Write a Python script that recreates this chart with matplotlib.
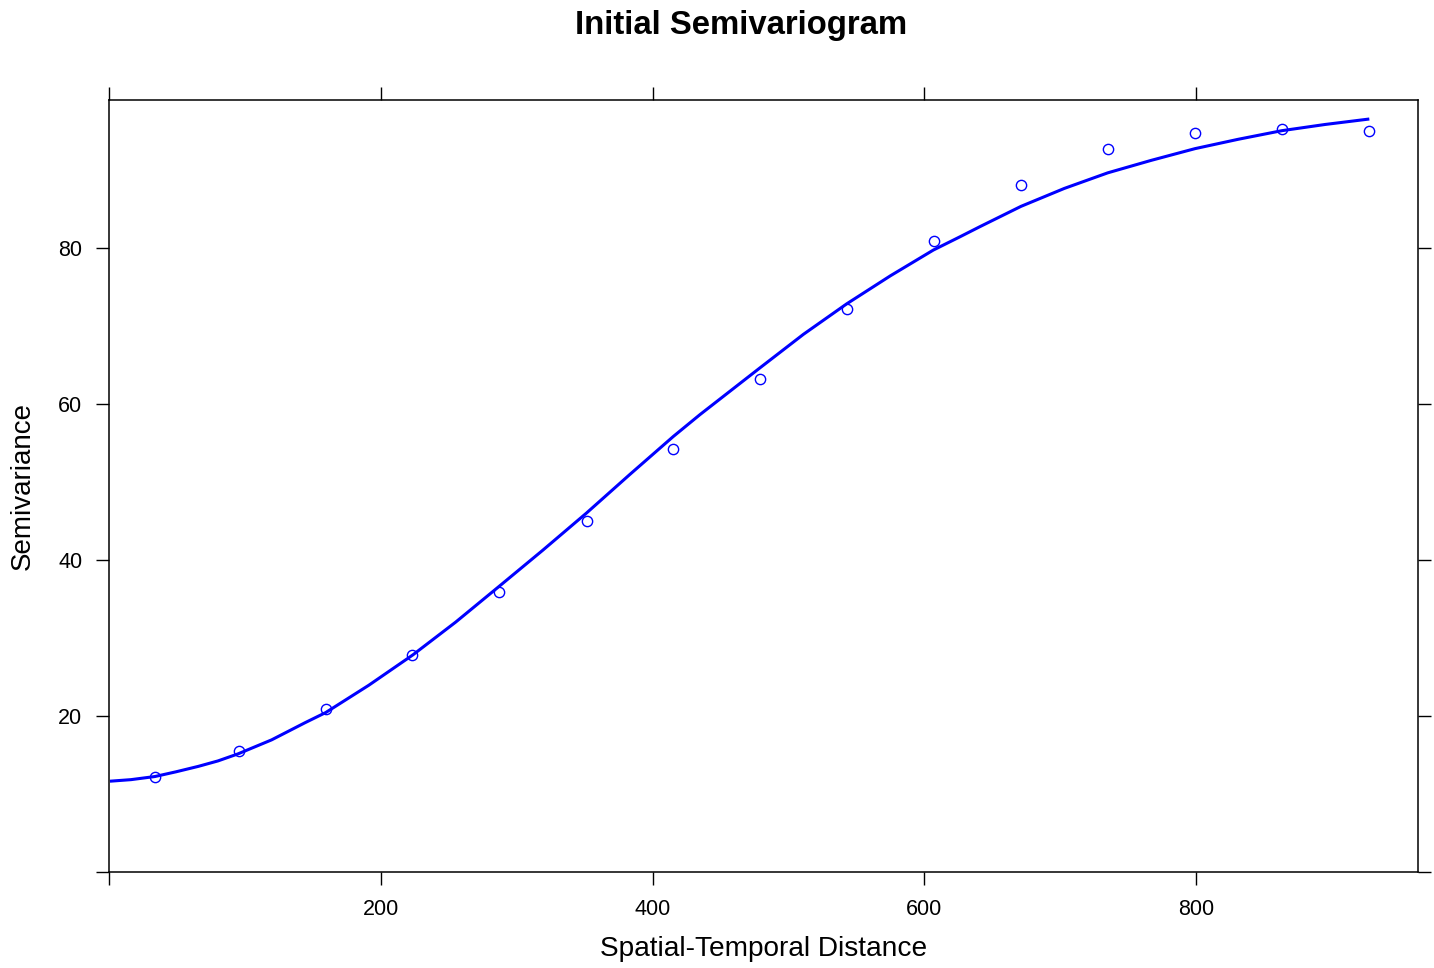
import matplotlib
matplotlib.use("Agg")
import matplotlib.pyplot as plt

plt.rcParams['font.family'] = ['Liberation Sans', 'DejaVu Sans']

# Empirical semivariogram points
dist = [33.6, 95.5, 159.5, 222.8, 286.9, 351.4, 415.2, 479.0, 543.3, 607.1,
        671.1, 735.0, 799.2, 863.0, 927.0]
gamma = [12.2, 15.5, 20.8, 27.8, 35.9, 44.9, 54.2, 63.2, 72.1, 80.9,
         88.1, 92.7, 94.7, 95.2, 95.0]

# Fitted model line
model_x = [0.5, 16.0, 33.6, 49.0, 65.5, 80.0, 94.7, 119.5, 144.1, 159.3,
           191.0, 223.5, 255.0, 287.1, 319.0, 351.4, 383.0, 415.2, 434.8,
           479.0, 511.0, 542.8, 575.0, 606.6, 626.2, 640.9, 671.1, 703.0,
           735.0, 767.0, 799.2, 831.0, 863.0, 895.0, 927.5]
model_y = [11.6, 11.8, 12.2, 12.8, 13.5, 14.2, 15.1, 16.9, 19.1, 20.4,
           23.9, 27.8, 32.0, 36.6, 41.2, 46.0, 50.9, 55.8, 58.6,
           64.6, 68.9, 72.8, 76.4, 79.7, 81.4, 82.7, 85.3, 87.6,
           89.6, 91.2, 92.7, 93.9, 95.0, 95.8, 96.5]

xticks = [0, 200, 400, 600, 800]
xticklabels = ['', '200', '400', '600', '800']
yticks = [0, 20, 40, 60, 80]
yticklabels = ['', '20', '40', '60', '80']

fig = plt.figure(figsize=(14.34, 9.68), dpi=100)
ax = fig.add_axes([0.0762, 0.0995, 0.9128, 0.7969])

ax.plot(model_x, model_y, color='#0000FF', lw=2.2, zorder=2,
        solid_joinstyle='round', solid_capstyle='butt')
ax.plot(dist, gamma, linestyle='none', marker='o', markersize=7.4,
        markerfacecolor='none', markeredgecolor='#0000FF', markeredgewidth=1.0,
        zorder=3)

ax.set_xlim(0, 963.5)
ax.set_ylim(0, 98.9)

ax.set_xticks(xticks)
ax.set_xticklabels(xticklabels)
ax.set_yticks(yticks)
ax.set_yticklabels(yticklabels)

ax.tick_params(axis='both', direction='out', length=9.4, width=1.0,
               labelsize=15.5, colors='black', pad=10,
               top=True, right=True, labeltop=False, labelright=False)
for s in ax.spines.values():
    s.set_linewidth(1.1)
    s.set_color('black')

ax.set_xlabel('Spatial-Temporal Distance', fontsize=20.2, labelpad=12)
ax.set_ylabel('Semivariance', fontsize=20.0, labelpad=16)
fig.text(0.517, 0.974, 'Initial Semivariogram', fontsize=23.7,
         fontweight='bold', ha='center', va='center')

fig.savefig('out.png', dpi=100)
